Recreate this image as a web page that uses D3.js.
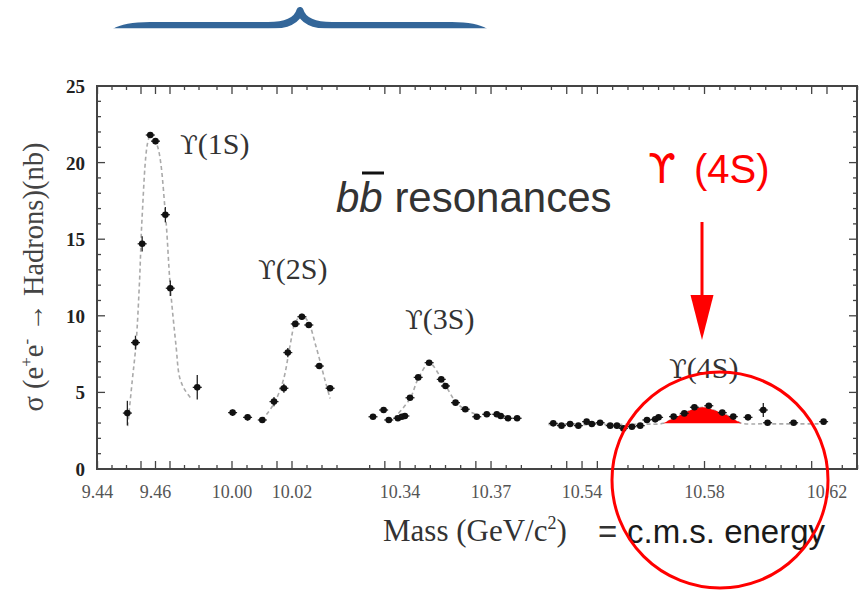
<!DOCTYPE html>
<html>
<head>
<meta charset="utf-8">
<script src="https://cdn.jsdelivr.net/npm/d3@7"></script>
<style>
    body { margin: 0; background: #fff; }
    svg { display: block; }
</style>
</head>
<body>
<div id="root"></div>
<script>
// ---------------------------- DATA ----------------------------
// Measured points: mass (GeV) and cross-section (nb), with vertical errors
const massPoints = [
    9.4503, 9.4531, 9.4554, 9.4582, 9.4600, 9.4634, 9.4651, 9.4744,
    10.0002, 10.0052, 10.0101, 10.0140, 10.0173, 10.0186, 10.0211, 10.0233, 10.0256, 10.0291, 10.0327,
    10.3311, 10.3346, 10.3363, 10.3393, 10.3406, 10.3416, 10.3433, 10.3460, 10.3496, 10.3536, 10.3550,
    10.3583, 10.3615, 10.3653, 10.3686, 10.3719, 10.3732, 10.3756, 10.3786,
    10.5306, 10.5333, 10.5361, 10.5388, 10.5415, 10.5432, 10.5459, 10.5492, 10.5514, 10.5535, 10.5563,
    10.5590, 10.5612, 10.5639, 10.5650, 10.5699, 10.5734, 10.5767, 10.5814, 10.5858, 10.5894, 10.5942,
    10.5992, 10.6006, 10.6091, 10.6189
];
const sigmaPoints = [
    3.65, 8.25, 14.7, 21.8, 21.4, 16.6, 11.8, 5.33,
    3.68, 3.37, 3.20, 4.40, 5.27, 7.60, 9.47, 9.94, 9.40, 6.72, 5.27,
    3.41, 3.85, 3.20, 3.31, 3.41, 3.46, 4.65, 5.98, 6.94, 5.85, 5.42,
    4.33, 3.90, 3.41, 3.57, 3.57, 3.46, 3.31, 3.31,
    2.98, 2.83, 2.94, 2.83, 3.09, 2.94, 3.02, 2.83, 2.83, 2.65, 2.76,
    2.83, 3.20, 3.24, 3.37, 3.42, 3.63, 4.03, 4.13, 3.68, 3.42, 3.37,
    3.85, 3.02, 3.02, 3.09
];
const sigmaErrors = [
    0.80, 0.45, 0.50, 0.20, 0.20, 0.50, 0.50, 0.80,
    0.20, 0.20, 0.20, 0.30, 0.30, 0.30, 0.20, 0.20, 0.20, 0.20, 0.20,
    0.15, 0.15, 0.15, 0.15, 0.15, 0.15, 0.15, 0.15, 0.15, 0.15, 0.15,
    0.15, 0.15, 0.15, 0.15, 0.15, 0.15, 0.15, 0.15,
    0.10, 0.10, 0.10, 0.10, 0.10, 0.10, 0.10, 0.10, 0.10, 0.10, 0.10,
    0.10, 0.10, 0.10, 0.10, 0.10, 0.10, 0.10, 0.10, 0.10, 0.10, 0.10,
    0.45, 0.10, 0.10, 0.10
];

// Fitted line shapes [mass, sigma]
const fit1S = [[9.4504, 2.8], [9.4520, 5.8], [9.4533, 8.2], [9.4545, 12.3], [9.4554, 16.5], [9.4573, 21.3],
    [9.4585, 21.9], [9.4608, 21.0], [9.4634, 16.7], [9.4651, 11.9], [9.4671, 8.0], [9.4683, 6.0],
    [9.4700, 5.2], [9.4723, 4.6]];
const fit2S = [[10.0100, 3.2], [10.0138, 4.2], [10.0171, 5.8], [10.0193, 8.0], [10.0210, 9.5], [10.0232, 10.05],
    [10.0254, 9.6], [10.0280, 8.0], [10.0310, 5.8], [10.0327, 4.6]];
const fit3S = [[10.3380, 3.3], [10.3433, 4.6], [10.3460, 5.9], [10.3497, 6.9], [10.3538, 5.85], [10.3586, 4.33],
    [10.3618, 3.85], [10.3659, 3.52]];
const fit4S = [[10.5290, 2.9], [10.5450, 2.9], [10.5600, 2.93], [10.5665, 2.98], [10.5698, 3.31], [10.5731, 3.63],
    [10.5763, 3.9], [10.5796, 4.03], [10.5829, 3.85], [10.5872, 3.52], [10.5905, 3.15], [10.5921, 2.98],
    [10.6000, 2.95], [10.6200, 2.95]];

// Shaded Y(4S) peak above the continuum
const hump4S = [[10.5665, 2.98], [10.5698, 3.31], [10.5731, 3.63], [10.5763, 3.9], [10.5796, 4.03],
    [10.5829, 3.85], [10.5872, 3.52], [10.5905, 3.15], [10.5921, 2.98]];
const humpBase = 2.98;

// Broken x axis: visible mass windows, labelled ticks
const segmentDomains = [[9.44, 9.478], [9.995, 10.037], [10.328, 10.381], [10.528, 10.63]];
const xTickLabels = ["9.44", "9.46", "10.00", "10.02", "10.34", "10.37", "10.54", "10.58", "10.62"];
const yTickLabels = ["0", "5", "10", "15", "20", "25"];
const peakStates = ["1S", "2S", "3S", "4S"];

// ---------------------------- LAYOUT ----------------------------
const width = 865;
const height = 592;
const frame = { left: 97, right: 857, top: 86, bottom: 469 };
const segmentRanges = [[97.5, 207.7], [217, 343], [363.6, 524.4], [545.3, 857.6]];
const peakLabelPos = [[180, 154], [258, 279], [405, 329], [669, 378]];
const serif = "'Liberation Serif', 'Times New Roman', serif";
const sans = "'Liberation Sans', Arial, sans-serif";

const svg = d3.select("#root")
    .append("svg")
    .attr("width", width)
    .attr("height", height);

// Piecewise x scale joins the four windows
const x = d3.scaleLinear()
    .domain(segmentDomains.flat())
    .range(segmentRanges.flat());
const y = d3.scaleLinear()
    .domain([0, 25])
    .range([frame.bottom, frame.top]);

// ---------------------------- BRACE ----------------------------
svg.append("clipPath")
    .attr("id", "braceClip")
    .append("rect")
    .attr("x", 0).attr("y", 0)
    .attr("width", width).attr("height", 28.3);
svg.append("path")
    .attr("clip-path", "url(#braceClip)")
    .attr("d", "M110,36 Q118,25.5 150,25.5 L268,25.5 Q296,25.5 300,10.5 Q304,25.5 332,25.5 L452,25.5 Q482,25.5 490,36")
    .attr("fill", "none")
    .attr("stroke", "#336699")
    .attr("stroke-width", 7)
    .attr("stroke-linejoin", "round");

// ---------------------------- AXES FRAME & TICKS ----------------------------
const axisColour = "#444";

// x ticks every 0.005 inside each window
let xTicks = [];
segmentDomains.forEach(seg => {
    for (let k = Math.ceil(seg[0] * 200 - 1e-6); k <= Math.floor(seg[1] * 200 + 1e-6); k++) {
        const v = k / 200;
        xTicks.push({ v: v, major: xTickLabels.includes(v.toFixed(2)) });
    }
});
const tickG = svg.append("g")
    .attr("stroke", axisColour)
    .attr("stroke-width", 1.3);
tickG.selectAll(".xb")
    .data(xTicks)
    .enter()
    .append("line")
    .attr("x1", d => x(d.v)).attr("x2", d => x(d.v))
    .attr("y1", frame.bottom).attr("y2", d => frame.bottom - (d.major ? 8 : 4));
tickG.selectAll(".xt")
    .data(xTicks)
    .enter()
    .append("line")
    .attr("x1", d => x(d.v)).attr("x2", d => x(d.v))
    .attr("y1", frame.top).attr("y2", d => frame.top + (d.major ? 8 : 4));

const yTicks = d3.range(0, 26);
tickG.selectAll(".yl")
    .data(yTicks)
    .enter()
    .append("line")
    .attr("y1", d => y(d)).attr("y2", d => y(d))
    .attr("x1", frame.left).attr("x2", d => frame.left + (d % 5 === 0 ? 8 : 4));
tickG.selectAll(".yr")
    .data(yTicks)
    .enter()
    .append("line")
    .attr("y1", d => y(d)).attr("y2", d => y(d))
    .attr("x1", frame.right).attr("x2", d => frame.right - (d % 5 === 0 ? 8 : 4));

svg.append("rect")
    .attr("x", frame.left)
    .attr("y", frame.top)
    .attr("width", frame.right - frame.left)
    .attr("height", frame.bottom - frame.top)
    .attr("fill", "none")
    .attr("stroke", axisColour)
    .attr("stroke-width", 2);

// Tick labels
svg.append("g")
    .selectAll("text")
    .data(xTickLabels)
    .enter()
    .append("text")
    .attr("x", d => x(+d))
    .attr("y", 498)
    .attr("text-anchor", "middle")
    .style("font-family", serif)
    .style("font-size", "18px")
    .style("fill", "#555")
    .text(d => d);

svg.append("g")
    .selectAll("text")
    .data(yTickLabels)
    .enter()
    .append("text")
    .attr("x", 85)
    .attr("y", d => y(+d) + 7)
    .attr("text-anchor", "end")
    .style("font-family", serif)
    .style("font-weight", "bold")
    .style("font-size", "19px")
    .style("fill", "#222")
    .text(d => d);

// Axis titles
const xTitle = svg.append("text")
    .attr("x", 383)
    .attr("y", 541)
    .style("font-family", serif)
    .style("font-size", "31px")
    .style("fill", "#333");
xTitle.append("tspan").text("Mass (GeV/c");
xTitle.append("tspan").attr("dy", -12).style("font-size", "18px").text("2");
xTitle.append("tspan").attr("dy", 12).text(")");

const yTitle = svg.append("text")
    .attr("transform", "translate(43,277) rotate(-90)")
    .attr("text-anchor", "middle")
    .style("font-family", serif)
    .style("font-size", "28.5px")
    .style("fill", "#444");
yTitle.append("tspan").text("σ (e");
yTitle.append("tspan").attr("dy", -11).style("font-size", "17px").text("+");
yTitle.append("tspan").attr("dy", 11).text("e");
yTitle.append("tspan").attr("dy", -11).style("font-size", "17px").text("-");
yTitle.append("tspan").attr("dy", 11).text(" → Hadrons)(nb)");

// ---------------------------- FITS & DATA ----------------------------
const fitLine = d3.line()
    .x(d => x(d[0]))
    .y(d => y(d[1]))
    .curve(d3.curveCatmullRom.alpha(0.5));
svg.append("g")
    .selectAll("path")
    .data([fit1S, fit2S, fit3S, fit4S])
    .enter()
    .append("path")
    .attr("d", fitLine)
    .attr("fill", "none")
    .attr("stroke", "#aaa")
    .attr("stroke-width", 1.6)
    .attr("stroke-dasharray", "4,3");

// Red shaded Y(4S) area
const humpArea = d3.area()
    .x(d => x(d[0]))
    .y0(y(humpBase))
    .y1(d => y(d[1]))
    .curve(d3.curveCatmullRom.alpha(0.5));
svg.append("path")
    .datum(hump4S)
    .attr("d", humpArea)
    .attr("fill", "#ff0000");

const points = massPoints.map((m, i) => ({ m: m, s: sigmaPoints[i], e: sigmaErrors[i] }));
const pointG = svg.append("g")
    .selectAll("g")
    .data(points)
    .enter()
    .append("g");
pointG.append("line")
    .attr("x1", d => x(d.m)).attr("x2", d => x(d.m))
    .attr("y1", d => y(d.s - d.e)).attr("y2", d => y(d.s + d.e))
    .attr("stroke", "#222")
    .attr("stroke-width", 1.3);
pointG.append("line")
    .attr("x1", d => x(d.m) - 4.5).attr("x2", d => x(d.m) + 4.5)
    .attr("y1", d => y(d.s)).attr("y2", d => y(d.s))
    .attr("stroke", "#222")
    .attr("stroke-width", 1.3);
pointG.append("circle")
    .attr("cx", d => x(d.m))
    .attr("cy", d => y(d.s))
    .attr("r", 3.3)
    .attr("fill", "#111");

// Peak labels: curly upsilon + state
const peakText = svg.append("g")
    .selectAll("text")
    .data(peakStates)
    .enter()
    .append("text")
    .attr("x", (d, i) => peakLabelPos[i][0])
    .attr("y", (d, i) => peakLabelPos[i][1])
    .style("font-family", serif)
    .style("font-size", "30px")
    .style("fill", "#333");
peakText.append("tspan")
    .style("font-family", "'DejaVu Serif', serif")
    .style("font-size", "26px")
    .text("ϒ");
peakText.append("tspan")
    .text(d => "(" + d + ")");

// ---------------------------- ANNOTATIONS ----------------------------
const bbText = svg.append("text")
    .attr("x", 336)
    .attr("y", 212)
    .style("font-family", sans)
    .style("font-size", "42px")
    .style("fill", "#333");
bbText.append("tspan").style("font-style", "italic").text("bb");
bbText.append("tspan").text(" resonances");
svg.append("line")
    .attr("x1", 362).attr("x2", 384)
    .attr("y1", 173).attr("y2", 173)
    .attr("stroke", "#111")
    .attr("stroke-width", 3);

const redLabel = svg.append("text")
    .attr("y", 183)
    .style("font-family", sans)
    .style("font-size", "40px")
    .style("fill", "#ff0000");
redLabel.append("tspan")
    .attr("x", 648)
    .style("font-family", "'DejaVu Sans', sans-serif")
    .style("font-size", "40px")
    .text("ϒ");
redLabel.append("tspan")
    .attr("x", 694)
    .text("(4S)");

// Red arrow onto the Y(4S)
svg.append("line")
    .attr("x1", 702).attr("x2", 702)
    .attr("y1", 222).attr("y2", 297)
    .attr("stroke", "#ff0000")
    .attr("stroke-width", 3);
svg.append("path")
    .attr("d", "M690.5,295 L713.5,295 L702,340 Z")
    .attr("fill", "#ff0000");

svg.append("text")
    .attr("x", 598)
    .attr("y", 543)
    .style("font-family", sans)
    .style("font-size", "33px")
    .style("fill", "#333")
    .text("=");
svg.append("text")
    .attr("x", 627)
    .attr("y", 543)
    .style("font-family", sans)
    .style("font-size", "33px")
    .style("fill", "#1a1a1a")
    .text("c.m.s. energy");

svg.append("circle")
    .attr("cx", 720)
    .attr("cy", 480)
    .attr("r", 108)
    .attr("fill", "none")
    .attr("stroke", "#ff0000")
    .attr("stroke-width", 3);
</script>
</body>
</html>
